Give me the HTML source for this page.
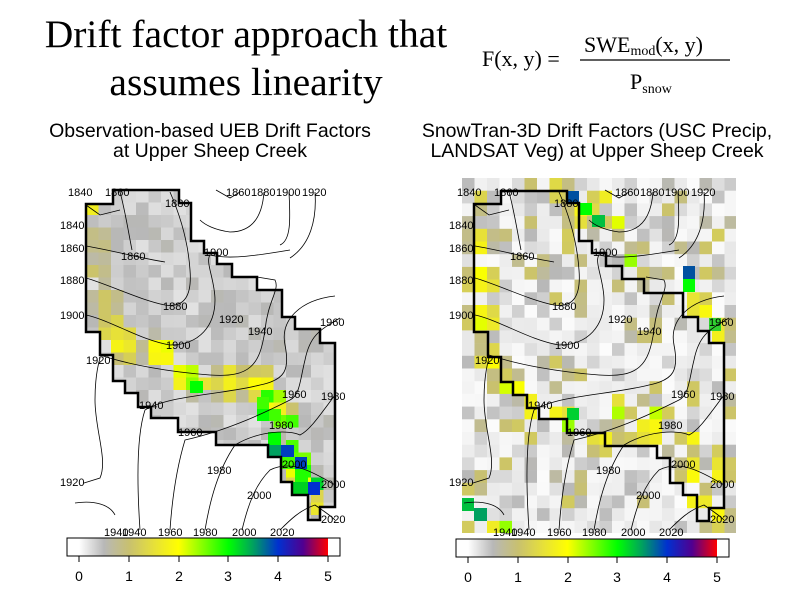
<!DOCTYPE html>
<html><head><meta charset="utf-8"><style>
html,body{margin:0;padding:0;background:#fff;width:800px;height:600px;overflow:hidden}
svg{display:block}
.t{font-family:"Liberation Serif",serif}
.s{font-family:"Liberation Sans",sans-serif}
.cl{font-family:"Liberation Sans",sans-serif;font-size:11px;fill:#000}
</style></head><body>
<svg id="sv" width="800" height="600" viewBox="0 0 800 600" xmlns="http://www.w3.org/2000/svg">
<defs>
<clipPath id="lp"><polygon points="86,204 113,204 113,190 179,190 179,203 191,203 191,241 204,241 204,253 217,253 217,264 232,264 232,277 257,277 257,290 282,290 282,317 295,317 295,329 320,329 320,343 335,343 335,507 320,507 320,520 308,520 308,495 292,495 292,482 281,482 281,457 268,457 268,445 216,445 216,432 178,432 178,418 151,418 151,407 138,407 138,393 125,393 125,381 113,381 113,355 100,355 100,332 86,332"/></clipPath>
<linearGradient id="cb" x1="0" x2="1" y1="0" y2="0">
<stop offset="0" stop-color="#fff"/><stop offset="0.1" stop-color="#b8b8b8"/><stop offset="0.2" stop-color="#c8c070"/><stop offset="0.3" stop-color="#e6e03a"/><stop offset="0.4" stop-color="#ffff00"/><stop offset="0.5" stop-color="#80ff00"/><stop offset="0.6" stop-color="#00ff00"/><stop offset="0.7" stop-color="#00a060"/><stop offset="0.8" stop-color="#0030d0"/><stop offset="0.9" stop-color="#500090"/><stop offset="1" stop-color="#ff0000"/>
</linearGradient>
</defs>
<text class="t" x="246" y="47" font-size="39.5" text-anchor="middle">Drift factor approach that</text>
<text class="t" x="246" y="95" font-size="39.5" text-anchor="middle">assumes linearity</text>
<text class="t" x="482" y="66" font-size="22">F(x, y) =</text>
<text class="t" x="584" y="52" font-size="22">SWE<tspan font-size="14" dy="3">mod</tspan><tspan dy="-3">(x, y)</tspan></text>
<line x1="580" y1="60" x2="730" y2="60" stroke="#000" stroke-width="1.2"/>
<text class="t" x="630" y="89" font-size="22">P<tspan font-size="14" dy="4">snow</tspan></text>
<text class="s" x="210" y="137" font-size="19.5" text-anchor="middle">Observation-based UEB Drift Factors</text>
<text class="s" x="210" y="157" font-size="19.5" text-anchor="middle">at Upper Sheep Creek</text>
<text class="s" x="597" y="137" font-size="19.5" text-anchor="middle">SnowTran-3D Drift Factors (USC Precip,</text>
<text class="s" x="597" y="157" font-size="19.5" text-anchor="middle">LANDSAT Veg) at Upper Sheep Creek</text>
<g id="lc" clip-path="url(#lp)"></g>
<g id="rc"></g>
<g>
<rect x="190" y="381" width="13" height="12" fill="#00ff00"/>
<rect x="257" y="397" width="12" height="12" fill="#40ff00"/>
<rect x="257" y="409" width="12" height="12" fill="#00ff00"/>
<rect x="269" y="409" width="12" height="12" fill="#40ff00"/>
<rect x="268" y="432" width="13" height="13" fill="#00ff00"/>
<rect x="268" y="445" width="13" height="12" fill="#00a060"/>
<rect x="281" y="445" width="13" height="12" fill="#0040c0"/>
<rect x="295" y="457" width="12" height="12" fill="#0040c0"/>
<rect x="281" y="457" width="14" height="12" fill="#40ff00"/>
<rect x="295" y="469" width="13" height="13" fill="#20ff00"/>
<rect x="292" y="482" width="16" height="13" fill="#00d020"/>
<rect x="308" y="482" width="12" height="13" fill="#0030d0"/>
<rect x="567" y="191" width="12" height="12" fill="#0050a0"/>
<rect x="579" y="203" width="13" height="12" fill="#00ff00"/>
<rect x="592" y="215" width="13" height="12" fill="#00c040"/>
<rect x="683" y="266" width="12" height="13" fill="#0050a0"/>
<rect x="683" y="279" width="12" height="13" fill="#00ff00"/>
<rect x="567" y="408" width="12" height="12" fill="#00d030"/>
<rect x="709" y="318" width="12" height="13" fill="#30d030"/>
<rect x="462" y="498" width="12" height="13" fill="#00c040"/>
<rect x="474" y="508" width="13" height="13" fill="#00a060"/>
</g>
<g id="cont" fill="none" stroke="#000" stroke-width="0.8">
<path d="M86,205 L100,215 L120,210"/>
<path d="M86,246 C110,250 140,258 165,262"/>
<path d="M120,192 C125,210 128,230 132,250"/>
<path d="M86,278 C110,285 140,300 165,305 C185,308 192,295 190,270 C188,240 180,215 170,192"/>
<path d="M86,315 C110,320 140,340 170,345 C200,345 215,325 215,300 C215,280 205,262 210,255 C230,260 260,255 290,250"/>
<path d="M100,355 C130,365 170,372 210,375 C250,378 260,365 265,330 C268,300 280,290 275,280 L257,277"/>
<path d="M84,483 L100,478 C108,460 95,430 95,400 C95,380 98,365 100,358"/>
<path d="M140,530 C138,500 135,440 145,410 C170,395 220,395 260,385 C285,380 290,370 285,345 C280,320 300,300 335,296"/>
<path d="M170,530 C172,500 176,470 185,440 C230,430 270,410 290,400 C300,395 300,380 305,360 C310,335 320,330 340,318"/>
<path d="M205,530 C210,500 218,470 235,445 C260,430 290,430 300,435 C310,430 320,415 335,395"/>
<path d="M242,530 C248,505 255,485 270,470 C290,460 310,470 335,485"/>
<path d="M280,530 C290,520 300,510 315,505 C322,510 330,515 335,520"/>
<path d="M216,190 L230,198 L240,192"/>
<path d="M264,192 C262,220 250,232 230,232 C215,230 205,225 200,220"/>
<path d="M289,192 C290,215 292,240 280,245"/>
<path d="M315,192 C317,220 310,245 290,258"/>
<path d="M75,503 C95,500 110,505 115,515"/>
</g>
<g class="cl">
<text x="68" y="196">1840</text><text x="105" y="196">1860</text><text x="165" y="207">1880</text>
<text x="226" y="196">1860</text><text x="251" y="196">1880</text><text x="276" y="196">1900</text><text x="302" y="196">1920</text>
<text x="60" y="229">1840</text><text x="60" y="252">1860</text><text x="121" y="260">1860</text><text x="204" y="256">1900</text>
<text x="60" y="284">1880</text><text x="163" y="310">1880</text><text x="60" y="319">1900</text><text x="219" y="323">1920</text>
<text x="248" y="335">1940</text><text x="320" y="326">1960</text><text x="166" y="349">1900</text><text x="86" y="364">1920</text>
<text x="139" y="409">1940</text><text x="282" y="398">1960</text><text x="321" y="400">1980</text><text x="178" y="436">1960</text>
<text x="269" y="429">1980</text><text x="282" y="468">2000</text><text x="207" y="474">1980</text><text x="321" y="488">2000</text>
<text x="247" y="499">2000</text><text x="60" y="486">1920</text><text x="321" y="523">2020</text>
<text x="104" y="536">1940</text><text x="122" y="536">1940</text><text x="158" y="536">1960</text><text x="193" y="536">1980</text><text x="232" y="536">2000</text><text x="270" y="536">2020</text>
</g>
<g transform="translate(389,0)">
<g fill="none" stroke="#000" stroke-width="0.8">
<path d="M86,205 L100,215 L120,210"/>
<path d="M86,246 C110,250 140,258 165,262"/>
<path d="M120,192 C125,210 128,230 132,250"/>
<path d="M86,278 C110,285 140,300 165,305 C185,308 192,295 190,270 C188,240 180,215 170,192"/>
<path d="M86,315 C110,320 140,340 170,345 C200,345 215,325 215,300 C215,280 205,262 210,255 C230,260 260,255 290,250"/>
<path d="M100,355 C130,365 170,372 210,375 C250,378 260,365 265,330 C268,300 280,290 275,280 L257,277"/>
<path d="M84,483 L100,478 C108,460 95,430 95,400 C95,380 98,365 100,358"/>
<path d="M140,530 C138,500 135,440 145,410 C170,395 220,395 260,385 C285,380 290,370 285,345 C280,320 300,300 335,296"/>
<path d="M170,530 C172,500 176,470 185,440 C230,430 270,410 290,400 C300,395 300,380 305,360 C310,335 320,330 340,318"/>
<path d="M205,530 C210,500 218,470 235,445 C260,430 290,430 300,435 C310,430 320,415 335,395"/>
<path d="M242,530 C248,505 255,485 270,470 C290,460 310,470 335,485"/>
<path d="M280,530 C290,520 300,510 315,505 C322,510 330,515 335,520"/>
<path d="M216,190 L230,198 L240,192"/>
<path d="M264,192 C262,220 250,232 230,232 C215,230 205,225 200,220"/>
<path d="M289,192 C290,215 292,240 280,245"/>
<path d="M315,192 C317,220 310,245 290,258"/>
<path d="M75,503 C95,500 110,505 115,515"/>
</g>
<g class="cl">
<text x="68" y="196">1840</text><text x="105" y="196">1860</text><text x="165" y="207">1880</text>
<text x="226" y="196">1860</text><text x="251" y="196">1880</text><text x="276" y="196">1900</text><text x="302" y="196">1920</text>
<text x="60" y="229">1840</text><text x="60" y="252">1860</text><text x="121" y="260">1860</text><text x="204" y="256">1900</text>
<text x="60" y="284">1880</text><text x="163" y="310">1880</text><text x="60" y="319">1900</text><text x="219" y="323">1920</text>
<text x="248" y="335">1940</text><text x="320" y="326">1960</text><text x="166" y="349">1900</text><text x="86" y="364">1920</text>
<text x="139" y="409">1940</text><text x="282" y="398">1960</text><text x="321" y="400">1980</text><text x="178" y="436">1960</text>
<text x="269" y="429">1980</text><text x="282" y="468">2000</text><text x="207" y="474">1980</text><text x="321" y="488">2000</text>
<text x="247" y="499">2000</text><text x="60" y="486">1920</text><text x="321" y="523">2020</text>
<text x="104" y="536">1940</text><text x="122" y="536">1940</text><text x="158" y="536">1960</text><text x="193" y="536">1980</text><text x="232" y="536">2000</text><text x="270" y="536">2020</text>
</g>
</g>
<polygon fill="none" stroke="#000" stroke-width="2.5" points="86,204 113,204 113,190 179,190 179,203 191,203 191,241 204,241 204,253 217,253 217,264 232,264 232,277 257,277 257,290 282,290 282,317 295,317 295,329 320,329 320,343 335,343 335,507 320,507 320,520 308,520 308,495 292,495 292,482 281,482 281,457 268,457 268,445 216,445 216,432 178,432 178,418 151,418 151,407 138,407 138,393 125,393 125,381 113,381 113,355 100,355 100,332 86,332"/>
<polygon fill="none" stroke="#000" stroke-width="2.5" points="474,204 501,204 501,191 567,191 567,203 579,203 579,241 592,241 592,253 606,253 606,266 622,266 622,279 644,279 644,293 683,293 683,317 698,317 698,331 709,331 709,343 724,343 724,508 709,508 709,521 697,521 697,495 683,495 683,483 670,483 670,458 657,458 657,446 605,446 605,433 567,433 567,419 539,419 539,408 527,408 527,395 513,395 513,382 501,382 501,357 488,357 488,332 474,332"/>
<rect x="67" y="538" width="273" height="18" fill="#fff" stroke="#000"/>
<rect x="79" y="538.5" width="249" height="17" fill="url(#cb)"/>
<rect x="456" y="539" width="273" height="18" fill="#fff" stroke="#000"/>
<rect x="468" y="539.5" width="249" height="17" fill="url(#cb)"/>
<g stroke="#000"><path d="M79,556v6M129,556v6M179,556v6M228,556v6M278,556v6M328,556v6M468,557v6M518,557v6M568,557v6M617,557v6M667,557v6M717,557v6"/></g>
<g class="s" font-size="14" text-anchor="middle">
<text x="79" y="581">0</text><text x="129" y="581">1</text><text x="179" y="581">2</text><text x="228" y="581">3</text><text x="278" y="581">4</text><text x="328" y="581">5</text>
<text x="468" y="582">0</text><text x="518" y="582">1</text><text x="568" y="582">2</text><text x="617" y="582">3</text><text x="667" y="582">4</text><text x="717" y="582">5</text>
</g>
</svg>
<script>
(function(){
var NS="http://www.w3.org/2000/svg";
var stops=[[0,[255,255,255]],[0.5,[184,184,184]],[1,[200,192,112]],[1.5,[230,224,58]],[2,[255,255,0]],[2.5,[128,255,0]],[3,[0,255,0]],[3.5,[0,160,96]],[4,[0,48,208]],[4.5,[80,0,144]],[5,[255,0,0]]];
function col(v){v=Math.max(0,Math.min(5,v));for(var i=0;i<stops.length-1;i++){if(v<=stops[i+1][0]){var a=stops[i],b=stops[i+1],t=(v-a[0])/(b[0]-a[0]);return "rgb("+[0,1,2].map(function(k){return Math.round(a[1][k]+(b[1][k]-a[1][k])*t)}).join(",")+")";}}return "rgb(255,0,0)";}
function h(i,j,s){var x=Math.sin(i*12.9898+j*78.233+s*3.1)*43758.5453;return x-Math.floor(x);}
function bump(x,y,B,k){var m=0;B.forEach(function(b){var r=b[3]*k;var d=((x-b[0])*(x-b[0])+(y-b[1])*(y-b[1]))/(r*r);var v=b[2]*Math.exp(-d*d);if(v>m)m=v;});return m;}
var LB=[[92,205,1.8,8],[95,240,1.0,14],[100,270,1.0,14],[105,300,1.1,14],[112,330,1.8,12],[125,345,2,14],[160,352,2.3,14],[185,375,2.6,12],[197,387,3.3,7],[230,383,2,14],[260,385,2.1,14],[272,400,2.7,12],[285,420,3.2,10],[288,452,4.1,7],[300,462,4.2,6],[300,475,2.8,10],[314,488,4.1,6],[316,505,1.7,10]];
var g=document.getElementById("lc");
for(var r=0;r<27;r++)for(var c=0;c<20;c++){var x=86+c*12.5,y=190+r*12.5,cx=x+6,cy=y+6;var v=0.2+0.35*h(c,r,1);var b=bump(cx,cy,LB,1.3);if(b>0.6)v=Math.max(v,b*(0.8+0.3*h(c,r,2)));var e=document.createElementNS(NS,"rect");e.setAttribute("x",x);e.setAttribute("y",y);e.setAttribute("width",12.7);e.setAttribute("height",12.7);e.setAttribute("fill",col(v));g.appendChild(e);}
var RB=[[480,200,1.2,10],[480,240,1.8,12],[482,280,1.9,14],[482,320,2,14],[490,360,2.1,12],[510,385,2.4,10],[530,405,2.2,10],[560,410,2.5,8],[570,425,3,6],[560,190,2.0,8],[585,215,3,8],[600,200,2,8],[615,225,2.6,8],[632,258,2.4,8],[700,305,2.0,10],[720,330,2,10],[620,410,2.2,10],[660,410,2.8,7],[600,440,2,12],[650,430,2,12],[690,440,1.9,10],[720,470,1.7,12],[690,470,2,10],[700,500,2,10],[720,520,1.8,10],[500,525,2.8,8],[480,480,1,12]];
var g2=document.getElementById("rc");
for(var r=0;r<28;r++)for(var c=0;c<22;c++){var x=462+c*12.5,y=178+r*12.7,cx=x+6,cy=y+6;var n=h(c,r,5);var v=n<0.55?0.02+0.15*h(c,r,9):(n<0.85?0.2+0.35*h(c,r,6):0.6+0.6*h(c,r,7));var b=bump(cx,cy,RB,1.3);if(b>0.7)v=Math.max(v,b*(0.75+0.35*h(c,r,8)));var e=document.createElementNS(NS,"rect");e.setAttribute("x",x);e.setAttribute("y",y);e.setAttribute("width",Math.min(12.8,736-x));e.setAttribute("height",Math.min(13,533-y));e.setAttribute("fill",col(v));g2.appendChild(e);}
})();
</script>
</body></html>
